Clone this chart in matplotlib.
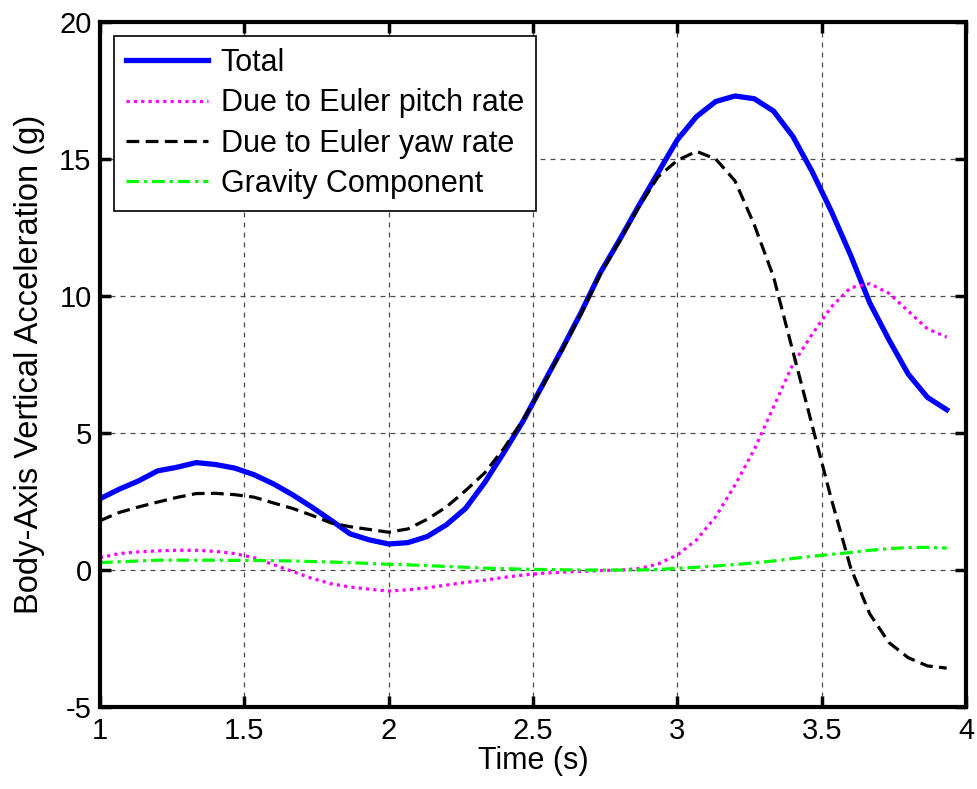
import numpy as np
import matplotlib.pyplot as plt

plt.rcParams['font.family'] = ['Liberation Sans', 'DejaVu Sans']
plt.rcParams['axes.unicode_minus'] = False

# time samples (s), 1/15 s step
t = 1 + np.arange(45) / 15.0

total = [2.6, 2.95, 3.25, 3.62, 3.75, 3.92, 3.85, 3.72, 3.48, 3.15,
         2.75, 2.3, 1.82, 1.32, 1.1, 0.95, 1.0, 1.22, 1.65, 2.25,
         3.2, 4.3, 5.45, 6.75, 8.05, 9.4, 10.85, 12.05, 13.3, 14.5,
         15.7, 16.55, 17.1, 17.3, 17.2, 16.75, 15.83, 14.55, 13.1, 11.5,
         9.75, 8.4, 7.15, 6.3, 5.85]

pitch = [0.45, 0.6, 0.66, 0.7, 0.72, 0.72, 0.68, 0.6, 0.45, 0.2,
         -0.05, -0.3, -0.5, -0.62, -0.7, -0.77, -0.72, -0.65, -0.55, -0.45,
         -0.37, -0.27, -0.18, -0.12, -0.08, -0.05, -0.02, 0.0, 0.05, 0.22,
         0.55, 1.1, 1.95, 3.1, 4.4, 5.95, 7.5, 8.6, 9.6, 10.3,
         10.45, 10.1, 9.45, 8.8, 8.5]

yaw = [1.8, 2.1, 2.3, 2.48, 2.65, 2.79, 2.8, 2.75, 2.66, 2.45,
       2.25, 2.0, 1.72, 1.58, 1.48, 1.38, 1.5, 1.85, 2.3, 2.9,
       3.55, 4.45, 5.5, 6.7, 8.0, 9.35, 10.8, 12.0, 13.25, 14.35,
       14.95, 15.28, 15.0, 14.2, 12.6, 10.7, 8.0, 5.3, 2.6, 0.1,
       -1.6, -2.65, -3.2, -3.5, -3.58]

gravity = [0.27, 0.3, 0.33, 0.36, 0.36, 0.36, 0.36, 0.35, 0.35, 0.34,
           0.33, 0.31, 0.29, 0.27, 0.24, 0.21, 0.19, 0.16, 0.13, 0.1,
           0.07, 0.05, 0.03, 0.02, 0.01, 0.0, 0.0, 0.0, 0.0, 0.02,
           0.06, 0.1, 0.15, 0.2, 0.26, 0.33, 0.42, 0.5, 0.57, 0.64,
           0.72, 0.78, 0.82, 0.83, 0.8]

fig = plt.figure(figsize=(9.78, 7.89), dpi=100)
ax = fig.add_axes([0.1022, 0.1039, 0.8855, 0.8682])

ax.plot(t, total, color='#0000ff', lw=3.8, label='Total')
ax.plot(t, pitch, color='#ff00ff', lw=2.3, ls=(0, (1, 1.3)), label='Due to Euler pitch rate')
ax.plot(t, yaw, color='black', lw=2.3, ls=(0, (4, 2)), label='Due to Euler yaw rate')
ax.plot(t, gravity, color='#00ff00', lw=2.3, ls=(0, (4, 1.5, 1, 1.5)), label='Gravity Component')

ax.set_xlim(1, 4)
ax.set_ylim(-5, 20)
ax.set_xticks([1, 1.5, 2, 2.5, 3, 3.5, 4])
ax.set_xticklabels(['1', '1.5', '2', '2.5', '3', '3.5', '4'])
ax.set_yticks([-5, 0, 5, 10, 15, 20])

ax.grid(True, color='0.3', ls=(0, (4, 4)), lw=0.9)
ax.tick_params(direction='in', length=8, width=2.5, top=True, right=True,
               labelsize=21)
ax.tick_params(axis='y', pad=6)
ax.tick_params(axis='x', pad=7)
for s in ax.spines.values():
    s.set_linewidth(3)

ax.set_xlabel('Time (s)', fontsize=22, labelpad=1)
ax.set_ylabel('Body-Axis Vertical Acceleration (g)', fontsize=23.5, labelpad=10)

leg = ax.legend(loc='upper left', fontsize=22, fancybox=False, framealpha=1,
                edgecolor='black', handlelength=2.7, borderaxespad=0.45,
                labelspacing=0.34, handletextpad=0.4, borderpad=0.4)
leg.get_frame().set_linewidth(1.2)

fig.savefig('out.png', dpi=100)
